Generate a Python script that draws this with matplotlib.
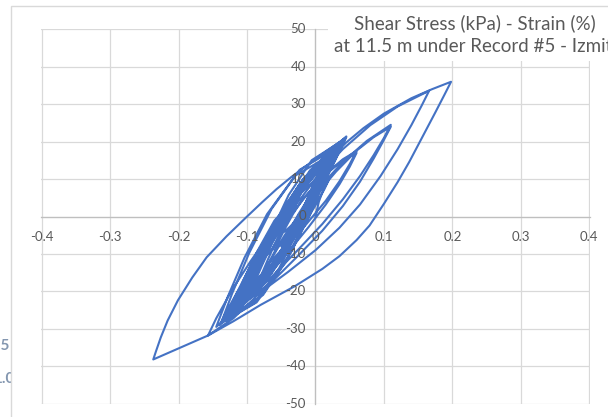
import matplotlib
matplotlib.use("Agg")
import matplotlib.pyplot as plt
import matplotlib.patches as ppatches

# strain (%) / shear stress (kPa) in drawing order
strain = [
    # early small cycles
    0.0, 0.005, 0.012, 0.02,
    0.013, 0.0, -0.015, -0.032, -0.05,
    -0.04, -0.025, -0.005, 0.02, 0.04, 0.06,
    0.05, 0.035, 0.015, -0.01, -0.035, -0.06, -0.09,
    -0.075, -0.055, -0.03, 0.0, 0.03, 0.06, 0.085, 0.11,
    0.1, 0.085, 0.065, 0.04, 0.01, -0.025, -0.06, -0.09, -0.12,
    -0.105, -0.085, -0.06, -0.03, 0.005, 0.04, 0.08, 0.12, 0.166,
    0.155, 0.14, 0.12, 0.095, 0.065, 0.035, 0.0, -0.04, -0.08, -0.12, -0.157,
    # big cycles
    -0.145, -0.1215, -0.095, -0.068, -0.035, 0.003, 0.045, 0.07, 0.1, 0.14, 0.17, 0.198,
    0.188, 0.175, 0.16, 0.137, 0.12, 0.1, 0.079, 0.06, 0.035, 0.01, -0.03, -0.08, -0.12,
    -0.157, -0.197, -0.237,
    -0.233, -0.226, -0.216, -0.201, -0.18, -0.159, -0.13, -0.1, -0.078, -0.057, -0.035,
    -0.013, 0.015, 0.045,
    # dense cloud of later cycles
    0.0275, 0.0013, -0.0338, -0.0775, -0.13,
    -0.1135, -0.0888, -0.0558, -0.0145, 0.035,
    0.0195, -0.0038, -0.0348, -0.0735, -0.12,
    -0.105, -0.0825, -0.0525, -0.015, 0.03,
    0.016, -0.005, -0.033, -0.068, -0.11,
    -0.0952, -0.073, -0.0434, -0.0064, 0.038,
    0.0217, -0.0028, -0.0354, -0.0761, -0.125,
    -0.1105, -0.0888, -0.0598, -0.0235, 0.02,
    0.008, -0.01, -0.034, -0.064, -0.1,
    -0.0875, -0.0688, -0.0438, -0.0125, 0.025,
    0.011, -0.01, -0.038, -0.073, -0.115,
    -0.1025, -0.0838, -0.0588, -0.0275, 0.01,
    0.0, -0.015, -0.035, -0.06, -0.09,
    -0.078, -0.06, -0.036, 0.0, 0.03,
    0.014, -0.01, -0.042, -0.082, -0.13,
    -0.12, -0.105, -0.085, -0.06, -0.03,
    -0.0345, -0.0413, -0.0503, -0.0615, -0.075,
    -0.069, -0.06, -0.048, -0.033, -0.015,
    -0.022, -0.0325, -0.0465, -0.064, -0.085,
    -0.0805, -0.0738, -0.0648, -0.0535, -0.04,
    -0.032, -0.02, -0.004, 0.016, 0.04,
    0.0225, -0.0038, -0.0388, -0.0825, -0.135,
    -0.1183, -0.0933, -0.0599, -0.0181, 0.032,
    0.0173, -0.0048, -0.0342, -0.0709, -0.115,
    -0.102, -0.0825, -0.0565, -0.024, 0.015,
    0.003, -0.015, -0.039, -0.069, -0.105,
    -0.0917, -0.0718, -0.0452, -0.0119, 0.028,
    0.0124, -0.011, -0.0422, -0.0812, -0.128,
    -0.1116, -0.087, -0.0542, -0.0132, 0.036,
    0.0206, -0.0025, -0.0333, -0.0718, -0.118,
    -0.104, -0.083, -0.055, -0.02, 0.022,
    0.0103, -0.0073, -0.0307, -0.0599, -0.095,
    -0.0845, -0.0688, -0.0478, -0.0215, 0.01,
    0.001, -0.0125, -0.0305, -0.053, -0.08,
    -0.0695, -0.0538, -0.0328, -0.0065, 0.025,
    0.0103, -0.0118, -0.0412, -0.0779, -0.122,
    -0.1056, -0.081, -0.0482, -0.0072, 0.042,
    0.0268, 0.004, -0.0264, -0.0644, -0.11,
    -0.0972, -0.078, -0.0524, -0.0204, 0.018,
    0.0062, -0.0115, -0.0351, -0.0646, -0.1,
    -0.087, -0.0675, -0.0415, -0.009, 0.03,
    0.014, -0.01, -0.042, -0.082, -0.13,
    -0.117, -0.0975, -0.0715, -0.039, 0.0,
    -0.007, -0.0175, -0.0315, -0.049, -0.07,
    # one more swing out to the right
    -0.06, -0.045, -0.02, 0.01, 0.04, 0.075, 0.11,
    0.1, 0.085, 0.065, 0.04, 0.01, -0.025, -0.06, -0.1, -0.14,
    -0.13, -0.115, -0.095, -0.07, -0.04, -0.01, 0.02, 0.04, 0.06,
    0.05, 0.035, 0.015, -0.015, -0.05, -0.1,
    # last cycles back in the cloud
    -0.0865, -0.0663, -0.0393, -0.0055, 0.035,
    0.0177, -0.0083, -0.0429, -0.0861, -0.138,
    -0.1216, -0.097, -0.0642, -0.0232, 0.026,
    0.0126, -0.0075, -0.0343, -0.0678, -0.108,
    -0.0932, -0.071, -0.0414, -0.0044, 0.04,
    0.0215, -0.0063, -0.0433, -0.0895, -0.145,
    -0.1285, -0.1038, -0.0708, -0.0295, 0.02,
    0.0062, -0.0145, -0.0421, -0.0766, -0.118,
    -0.1029, -0.0803, -0.05, -0.0123, 0.033,
    0.0207, 0.0023, -0.0224, -0.0531, -0.09,
    -0.0798, -0.0645, -0.0441, -0.0186, 0.012,
    -0.0024, -0.024, -0.0528, -0.0888, -0.132,
    -0.1143, -0.0878, -0.0524, -0.0081, 0.045,
    0.0345, 0.0188, -0.0023, -0.0285, -0.06,
    -0.054, -0.045, -0.033, -0.018, 0.0,
    -0.0045, -0.0113, -0.0203, -0.0315, -0.045,
]
stress = [
    0.0, 4.0, 7.5, 10.0,
    7.3, 3.0, -1.4, -5.2, -8.0,
    -4.4, 0.6, 6.4, 12.0, 15.0, 17.0,
    13.3, 8.6, 3.2, -2.8, -8.4, -13.9, -20.0,
    -14.6, -8.4, -1.6, 5.6, 12.0, 17.6, 21.2, 24.0,
    20.5, 15.5, 9.3, 2.8, -3.8, -10.4, -16.8, -21.2, -25.0,
    -19.5, -12.8, -5.4, 2.8, 11.2, 18.0, 24.4, 29.4, 33.6,
    29.6, 24.4, 18.0, 10.8, 3.2, -3.0, -9.0, -14.8, -20.2, -27.2, -31.8,
    -27.2, -19.5, -12.0, -5.0, 3.5, 12.0, 19.8, 23.6, 27.5, 31.6, 34.0, 36.0,
    32.4, 27.8, 22.6, 14.6, 9.2, 3.4, -2.4, -6.3, -10.6, -14.0, -18.6, -23.6, -28.0,
    -31.8, -35.0, -38.2,
    -36.0, -32.3, -27.8, -22.4, -16.3, -10.9, -5.3, 0.0, 3.8, 7.3, 10.6,
    13.6, 17.3, 21.2,
    14.6, 5.2, -6.1, -18.1, -27.0,
    -20.7, -11.7, -0.9, 10.5, 19.0,
    13.0, 4.4, -5.9, -16.9, -25.0,
    -19.1, -10.7, -0.6, 10.0, 18.0,
    12.4, 4.4, -5.2, -15.4, -23.0,
    -17.2, -8.9, 1.1, 11.6, 19.5,
    13.2, 4.2, -6.6, -18.0, -26.5,
    -20.6, -12.2, -2.1, 8.5, 16.5,
    11.5, 4.4, -4.2, -13.2, -20.0,
    -14.9, -7.7, 1.0, 10.2, 17.0,
    11.4, 3.4, -6.2, -16.4, -24.0,
    -18.8, -11.4, -2.5, 7.0, 14.0,
    9.6, 3.4, -4.1, -12.1, -18.0,
    -13.0, -5.9, 2.7, 11.7, 18.5,
    12.1, 3.1, -7.9, -19.4, -28.0,
    -23.5, -17.0, -9.3, -1.1, 5.0,
    3.1, 0.4, -2.9, -6.4, -9.0,
    -6.5, -3.0, 1.2, 5.7, 9.0,
    6.0, 1.7, -3.5, -8.9, -13.0,
    -11.1, -8.4, -5.1, -1.6, 1.0,
    3.7, 7.5, 12.1, 16.9, 20.5,
    13.86, 4.4, -7.0, -19.03, -28.0,
    -21.63, -12.56, -1.63, 9.9, 18.5,
    12.61, 4.22, -5.88, -16.55, -24.5,
    -19.09, -11.39, -2.1, 7.69, 15.0,
    9.93, 2.72, -5.98, -15.16, -22.0,
    -16.59, -8.89, 0.4, 10.19, 17.5,
    11.4, 2.73, -7.73, -18.77, -27.0,
    -20.63, -11.56, -0.63, 10.9, 19.5,
    13.33, 4.56, -6.02, -17.18, -25.5,
    -19.75, -11.56, -1.69, 8.73, 16.5,
    11.57, 4.55, -3.91, -12.84, -19.5,
    -15.05, -8.71, -1.07, 6.99, 13.0,
    9.03, 3.37, -3.44, -10.64, -16.0,
    -11.48, -5.04, 2.71, 10.9, 17.0,
    11.11, 2.72, -7.38, -18.05, -26.0,
    -19.59, -10.46, 0.54, 12.14, 20.8,
    14.73, 6.09, -4.32, -15.3, -23.5,
    -18.16, -10.55, -1.39, 8.29, 15.5,
    10.5, 3.38, -5.2, -14.25, -21.0,
    -15.66, -8.05, 1.11, 10.79, 18.0,
    11.77, 2.89, -7.8, -19.08, -27.5,
    -22.36, -15.05, -6.24, 3.06, 10.0,
    6.85, 2.36, -3.04, -8.75, -13.0,
    -9.5, -5.0, 1.5, 8.6, 14.6, 20.2, 24.5,
    21.0, 16.4, 10.8, 4.6, -2.0, -8.8, -15.4, -22.6, -29.0,
    -25.4, -20.5, -14.6, -7.9, -0.6, 6.4, 12.2, 15.3, 17.5,
    14.0, 9.4, 4.2, -2.4, -9.4, -21.5,
    -14.36, -4.81, 5.72, 15.05, 19.8,
    11.44, 0.29, -12.03, -22.95, -28.5,
    -20.49, -9.79, 2.01, 12.48, 17.8,
    10.74, 1.32, -9.09, -18.31, -23.0,
    -17.07, -8.62, 1.55, 12.29, 20.3,
    13.48, 3.77, -7.94, -20.29, -29.5,
    -21.59, -11.04, 0.62, 10.94, 16.2,
    8.93, -0.77, -11.48, -20.97, -25.8,
    -19.66, -10.93, -0.4, 10.71, 19.0,
    14.0, 6.88, -1.7, -10.75, -17.5,
    -12.14, -4.98, 2.93, 9.94, 13.5,
    6.36, -3.19, -13.72, -23.05, -27.8,
    -21.06, -11.47, 0.1, 12.3, 21.4,
    17.24, 11.31, 4.16, -3.38, -9.0,
    -6.67, -3.36, 0.64, 4.86, 8.0,
    6.36, 4.02, 1.2, -1.78, -4.0,
]

x_ticks = [-0.4, -0.3, -0.2, -0.1, 0.0, 0.1, 0.2, 0.3, 0.4]
x_labels = ["-0.4", "-0.3", "-0.2", "-0.1", "0", "0.1", "0.2", "0.3", "0.4"]
y_ticks = [-50, -40, -30, -20, -10, 0, 10, 20, 30, 40, 50]
y_labels = ["-50", "-40", "-30", "-20", "-10", "0", "10", "20", "30", "40", "50"]
title_1 = "Shear Stress (kPa) - Strain (%)"
title_2 = "at 11.5 m under Record #5 - Izmit"
side_labels = ["1.5", "1.0"]

W, H = 608, 417
plt.rcParams['font.family'] = ['Lato', 'DejaVu Sans']
fig = plt.figure(figsize=(W / 100, H / 100), dpi=100)

# bits of a neighbouring chart peeking out on the left
fig.text(9.5 / W, 1 - 346 / H, side_labels[0], ha="right", va="center",
         fontsize=11, fontweight="bold", color="#8497b0", zorder=0.2)
fig.text(14.5 / W, 1 - 379 / H, side_labels[1], ha="right", va="center",
         fontsize=11, fontweight="bold", color="#8497b0", zorder=0.2)

# chart frame
frame = ppatches.Rectangle((10.5 / W, -0.05), 1.2, (H - 6) / H + 0.05,
                           transform=fig.transFigure, facecolor="white",
                           edgecolor="#d9d9d9", lw=1.0, zorder=0.5)
fig.patches.append(frame)

ax = fig.add_axes([41 / W, 13 / H, 549 / W, 375 / H], zorder=1)
ax.set_facecolor("none")
ax.plot(strain, stress, color="#4472C4", lw=1.5, zorder=2,
        solid_joinstyle="round")

ax.set_xlim(-0.401, 0.401)
ax.set_ylim(-50.1, 50.1)
ax.set_xticks(x_ticks)
ax.set_yticks(y_ticks)
ax.set_xticklabels([])
ax.set_yticklabels([])
ax.tick_params(length=0)
ax.set_axisbelow(True)
ax.grid(True, color="#d9d9d9", lw=0.9)

for s in ["top", "right"]:
    ax.spines[s].set_visible(False)
ax.spines["left"].set_position(("data", 0))
ax.spines["bottom"].set_position(("data", 0))
for s in ["left", "bottom"]:
    ax.spines[s].set_color("#bfbfbf")
    ax.spines[s].set_linewidth(0.9)
    ax.spines[s].set_zorder(1)

for xv, lab in zip(x_ticks, x_labels):
    ax.annotate(lab, (xv, 0), xytext=(0, -15), textcoords="offset points",
                ha="center", va="center", fontsize=9.5, color="#595959",
                zorder=5, annotation_clip=False)
for yv, lab in zip(y_ticks, y_labels):
    ax.annotate(lab, (0, yv), xytext=(-7, 0), textcoords="offset points",
                ha="right", va="center", fontsize=9.5, color="#595959",
                zorder=5, annotation_clip=False)

# title sits in a white box over the plot area
title_box = ppatches.Rectangle((328 / W, (H - 61) / H), 1, 51 / H,
                               transform=fig.transFigure, facecolor="white",
                               edgecolor="none", zorder=3)
fig.patches.append(title_box)
fig.text(475 / W, 1 - 23 / H, title_1, ha="center", va="center",
         fontsize=13.5, color="#595959", zorder=4)
fig.text(334 / W, 1 - 47 / H, title_2, ha="left", va="center",
         fontsize=13.5, color="#595959", zorder=4)

fig.savefig("out.png", dpi=100)
